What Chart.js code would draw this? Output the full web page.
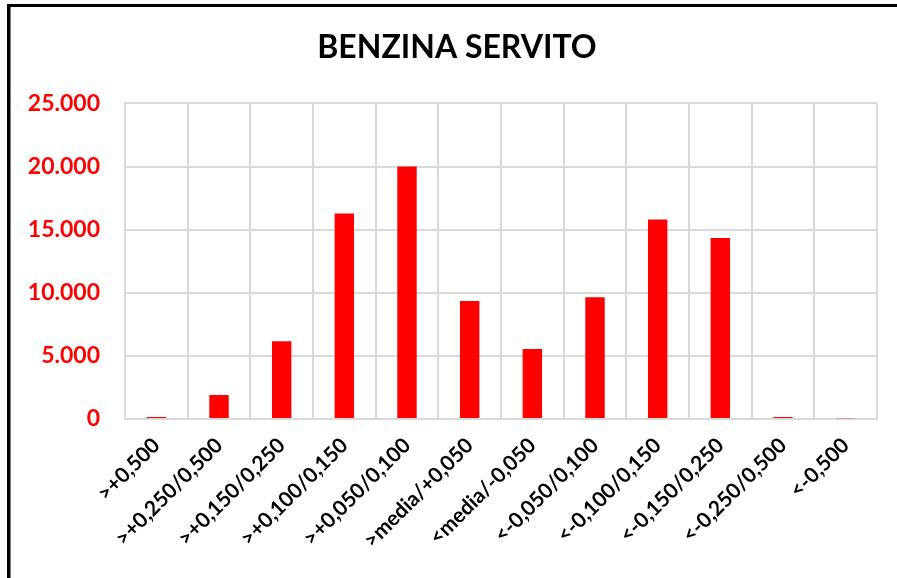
<!DOCTYPE html>
<html>
<head>
<meta charset="utf-8">
<script src="https://cdn.jsdelivr.net/npm/chart.js@4"></script>
<style>
  html, body { margin: 0; padding: 0; background: #fff; }
  canvas { display: block; }
</style>
</head>
<body>
<canvas id="myChart" width="897" height="578"></canvas>
<script>
// Benzina servito - distribuzione scostamenti

const categories = [
  ">+0,500", ">+0,250/0,500", ">+0,150/0,250", ">+0,100/0,150",
  ">+0,050/0,100", ">media/+0,050", "<media/-0,050", "<-0,050/0,100",
  "<-0,100/0,150", "<-0,150/0,250", "<-0,250/0,500", "<-0,500",
];
const values = [150, 1910, 6150, 16280, 20000, 9350, 5550, 9640, 15800, 14330, 160, 50];
const yMax = 25000;
const yStep = 5000;

const fmt = (v) => String(v).replace(/\B(?=(\d{3})+(?!\d))/g, ".");

const FONT = "Lato, 'Open Sans', sans-serif";
const GRID = "#d9d9d9";

// black frame on left and top, like the original sheet border
const frame = {
  id: "frame",
  afterLayout(chart) {
    // title in the original is centred on the sheet, not the plot
    if (chart.titleBlock) chart.titleBlock.left += 37;
  },
  beforeDraw(chart) {
    const c = chart.ctx;
    c.save();
    c.fillStyle = "#fff";
    c.fillRect(0, 0, chart.width, chart.height);
    c.restore();
  },
  afterDraw(chart) {
    const c = chart.ctx;
    c.save();
    c.fillStyle = "#000";
    c.fillRect(7, 4, 3.5, chart.height - 4);
    c.fillRect(7, 4, chart.width - 7, 3);
    c.restore();
  },
};

new Chart(document.getElementById("myChart"), {
  type: "bar",
  data: {
    labels: categories,
    datasets: [
      {
        data: values,
        backgroundColor: "#ff0000",
        categoryPercentage: 1,
        barPercentage: 0.31,
      },
    ],
  },
  options: {
    responsive: false,
    animation: false,
    layout: { padding: { left: 0, right: 20, top: 0, bottom: 0 } },
    plugins: {
      legend: { display: false },
      tooltip: { enabled: false },
      title: {
        display: true,
        text: "BENZINA SERVITO",
        color: "#000",
        font: { family: FONT, size: 32, weight: "bold", lineHeight: 1.2 },
        padding: { top: 28, bottom: 37 },
      },
    },
    scales: {
      x: {
        grid: { color: GRID, lineWidth: 2, drawTicks: false, offset: true },
        border: { color: GRID, width: 2 },
        ticks: {
          color: "#000",
          font: { family: FONT, size: 21, weight: "bold" },
          minRotation: 45,
          maxRotation: 45,
          padding: 14,
          autoSkip: false,
        },
        afterFit(scale) {
          scale.height = 159;
        },
      },
      y: {
        min: 0,
        max: yMax,
        grid: { color: GRID, lineWidth: 2, drawTicks: false },
        border: { color: GRID, width: 2 },
        ticks: {
          stepSize: yStep,
          color: "#ff0000",
          font: { family: FONT, size: 23, weight: "bold" },
          padding: 25,
          callback: (v) => fmt(v),
        },
        afterFit(scale) {
          scale.width = 125;
        },
      },
    },
  },
  plugins: [frame],
});
</script>
</body>
</html>
